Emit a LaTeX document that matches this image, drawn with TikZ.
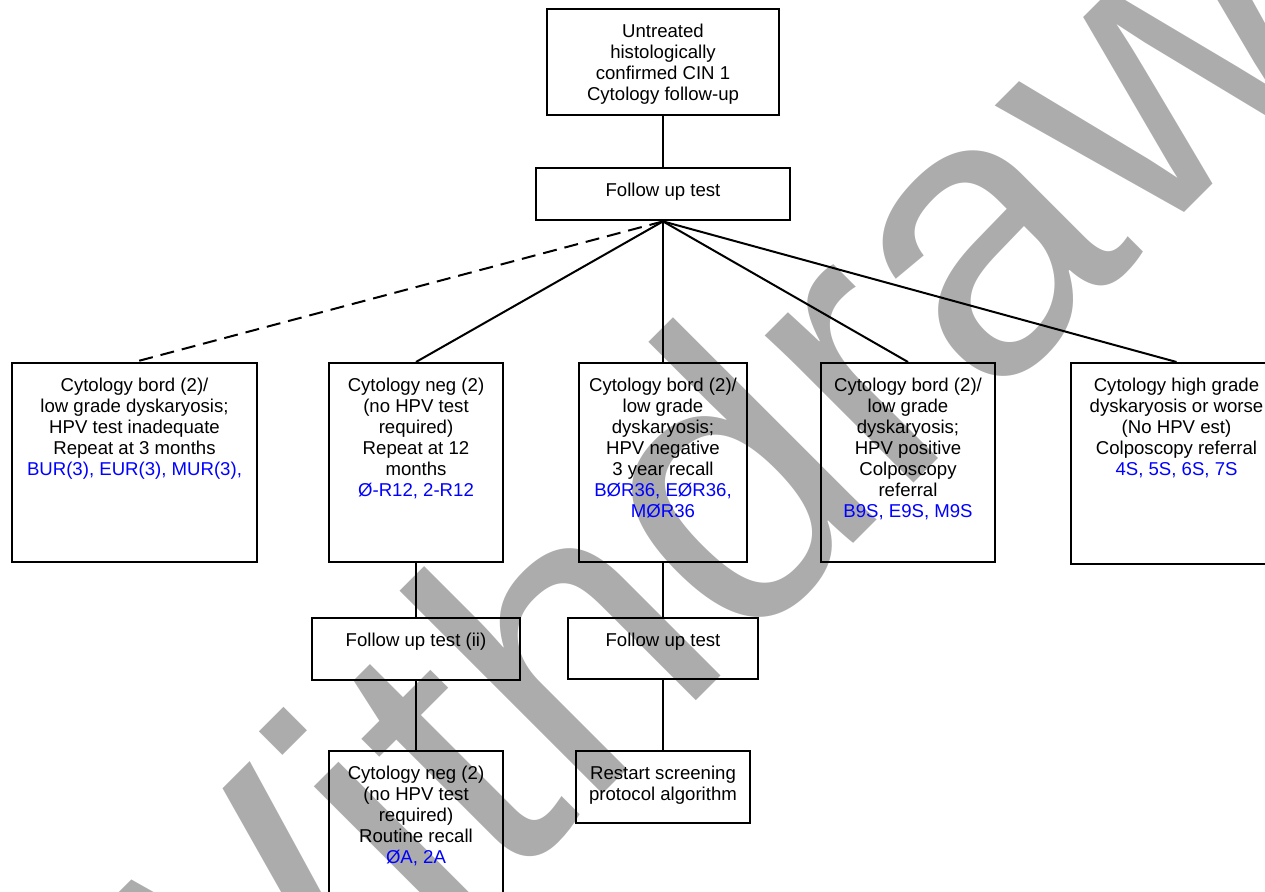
\documentclass[tikz,border=0pt]{standalone}
\usepackage{fontspec}
\setmainfont{Liberation Sans}
\usepackage{tikz}
\definecolor{codeblue}{RGB}{0,0,255}
\definecolor{wmgrey}{RGB}{172,172,172}
\tikzstyle{flowbox} = [draw, line width=1.2pt, inner sep=0pt, anchor=north]
\tikzstyle{link} = [line width=1pt]
\tikzstyle{wmarktext} = [wmgrey, inner sep=0pt, font=\fontsize{198}{198}\selectfont]
\newcommand{\boxtxt}[3]{\parbox[c][#2][t]{#1}{\centering\rule{0pt}{14pt}#3}}

\begin{document}
\begin{tikzpicture}[x=0.5pt, y=-0.5pt, font=\fontsize{9.3}{10.5}\selectfont]
				\useasboundingbox (0,0) rectangle (1265,892);
				\clip (0,0) rectangle (1265,892);
				
				% watermark behind everything
				\node [wmarktext, anchor=base west, rotate=45] (wmark) at (179,1218) {Withdrawn};
				
				\node [flowbox] (start)  at (663,8)   {\boxtxt{116pt}{53pt}{Untreated\\histologically\\confirmed CIN 1\\Cytology follow-up}};
				\node [flowbox] (test)   at (663,167) {\boxtxt{127pt}{26pt}{Follow up test}};
				
				\node [flowbox] (inadq)  at (134.5,362) {\boxtxt{122.5pt}{99.5pt}{Cytology bord (2)/\\low grade dyskaryosis;\\HPV test inadequate\\Repeat at 3 months\\\textcolor{codeblue}{BUR(3), EUR(3), MUR(3),}}};
				\node [flowbox] (neg)    at (416,362)   {\boxtxt{87pt}{99.5pt}{Cytology neg (2)\\(no HPV test\\required)\\Repeat at 12\\months\\\textcolor{codeblue}{Ø-R12, 2-R12}}};
				\node [flowbox] (hpvneg) at (663,362)   {\boxtxt{84pt}{99.5pt}{Cytology bord (2)/\\low grade\\dyskaryosis;\\HPV negative\\3 year recall\\\textcolor{codeblue}{BØR36, EØR36,}\\\textcolor{codeblue}{MØR36}}};
				\node [flowbox] (hpvpos) at (908,362)   {\boxtxt{87pt}{99.5pt}{Cytology bord (2)/\\low grade\\dyskaryosis;\\HPV positive\\Colposcopy\\referral\\\textcolor{codeblue}{B9S, E9S, M9S}}};
				\node [flowbox] (high)   at (1176.5,362) {\boxtxt{105.5pt}{100.5pt}{Cytology high grade\\dyskaryosis or worse\\(No HPV est)\\Colposcopy referral\\\textcolor{codeblue}{4S, 5S, 6S, 7S}}};
				
				\node [flowbox] (testii) at (416,617) {\boxtxt{104pt}{31pt}{Follow up test (ii)}};
				\node [flowbox] (testb)  at (663,617) {\boxtxt{95pt}{30.5pt}{Follow up test}};
				
				\node [flowbox] (routine) at (416,750) {\boxtxt{87pt}{100pt}{Cytology neg (2)\\(no HPV test\\required)\\Routine recall\\\textcolor{codeblue}{ØA, 2A}}};
				\node [flowbox] (restart) at (663,750) {\boxtxt{87pt}{36pt}{Restart screening\\protocol algorithm}};
				
				\draw [link] (start) -- (test);
				\draw [link, dash pattern=on 7pt off 4pt] (test.south) -- (inadq.north);
				\foreach \n in {neg,hpvneg,hpvpos,high}{
					\draw [link] (test.south) -- (\n.north);
				}
				\draw [link] (neg) -- (testii);
				\draw [link] (testii) -- (routine);
				\draw [link] (hpvneg) -- (testb);
				\draw [link] (testb) -- (restart);
				
\end{tikzpicture}
\end{document}
